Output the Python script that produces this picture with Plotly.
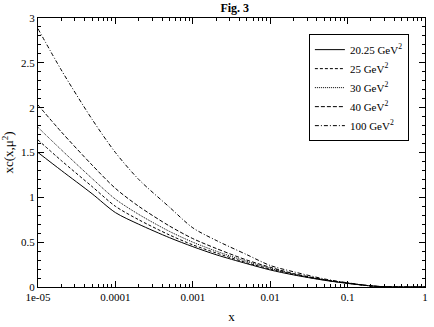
import numpy as np
import plotly.graph_objects as go

# x grid and curves (Fig. 3)
x = [1e-5, 2e-5, 5e-5, 1e-4, 2e-4, 5e-4, 1e-3, 2e-3, 5e-3, 1e-2, 2e-2, 5e-2, 0.1, 0.2, 0.3, 0.5, 1.0]

c_2025 = [1.50, 1.30, 1.04, 0.83, 0.70, 0.55, 0.45, 0.36, 0.26, 0.19, 0.135, 0.075, 0.040, 0.012, 0.003, 0.0, 0.0]
c_25 = [1.64, 1.41, 1.12, 0.90, 0.75, 0.58, 0.47, 0.38, 0.27, 0.20, 0.140, 0.078, 0.042, 0.012, 0.003, 0.0, 0.0]
c_30 = [1.78, 1.53, 1.21, 0.98, 0.81, 0.62, 0.50, 0.40, 0.285, 0.21, 0.145, 0.080, 0.043, 0.012, 0.003, 0.0, 0.0]
c_40 = [2.03, 1.73, 1.36, 1.10, 0.90, 0.68, 0.54, 0.43, 0.30, 0.22, 0.150, 0.082, 0.044, 0.012, 0.003, 0.0, 0.0]
c_100 = [2.88, 2.42, 1.87, 1.50, 1.20, 0.89, 0.66, 0.52, 0.36, 0.24, 0.170, 0.090, 0.047, 0.013, 0.003, 0.0, 0.0]

names = ["20.25 GeV<sup>2</sup>", "25 GeV<sup>2</sup>", "30 GeV<sup>2</sup>",
         "40 GeV<sup>2</sup>", "100 GeV<sup>2</sup>"]
dashes = ["solid", "3px,2px", "1px,1px", "4px,2px", "4px,2px,1px,2px"]

xtick_vals = [1e-5, 1e-4, 1e-3, 1e-2, 1e-1, 1]
xtick_text = ["1e-05", "0.0001", "0.001", "0.01", "0.1", "1"]
# minor ticks 2..9 in every decade
xminor = [m * 10.0 ** e for e in range(-5, 0) for m in range(2, 10)]

# x is plotted as log10(x) on a linear axis (ticks render reliably this way)
lx = np.log10(x)
lmaj = list(np.log10(xtick_vals))
lmin = list(np.log10(xminor))

fig = go.Figure()
for ys, nm, ds in zip([c_2025, c_25, c_30, c_40, c_100], names, dashes):
    fig.add_trace(go.Scatter(x=lx, y=ys, name=nm, mode="lines",
                             line=dict(color="black", width=1, dash=ds,
                                       shape="spline", smoothing=0.8)))

# empty trace on the overlay axis that carries the long (major) x ticks
fig.add_trace(go.Scatter(x=[-5, 0], y=[None, None], xaxis="x2", mode="lines",
                         showlegend=False, hoverinfo="skip"))

fig.update_layout(
    width=434, height=327,
    margin=dict(l=38, r=6, t=18, b=34),
    plot_bgcolor="white", paper_bgcolor="white",
    font=dict(family="Liberation Serif", size=11, color="black"),
    title=dict(text="<b>Fig. 3</b>", x=0.541, xanchor="center", y=0.99, yanchor="top",
               font=dict(size=12)),
    showlegend=True,
    legend=dict(x=0.70, y=0.94, xanchor="left", yanchor="top",
                bordercolor="black", borderwidth=1, bgcolor="white",
                font=dict(size=11), tracegroupgap=0, itemwidth=30),
    xaxis2=dict(range=[-5, 0], overlaying="x", anchor="y", side="bottom",
                showgrid=False, zeroline=False, showline=False, mirror="ticks",
                ticks="inside", ticklen=6, tickcolor="black",
                tickmode="array", tickvals=lmaj, showticklabels=False),
)

# main x axis: labelled majors plus short minor ticks
fig.layout.xaxis.update(
    range=[-5, 0], showgrid=False, zeroline=False,
    showline=True, linecolor="black", linewidth=1, mirror="ticks",
    ticks="inside", ticklen=3, tickcolor="black", tickmode="array",
    tickvals=lmaj + lmin, ticktext=xtick_text + [""] * len(lmin),
    title=dict(text="x", standoff=9),
)
fig.update_yaxes(
    range=[0, 3], showgrid=False, zeroline=False,
    showline=True, linecolor="black", linewidth=1, mirror="ticks",
    ticks="inside", ticklen=6, tickcolor="black",
    tickvals=[0, 0.5, 1, 1.5, 2, 2.5, 3], ticktext=["0", "0.5", "1", "1.5", "2", "2.5", "3"],
    minor=dict(ticks="inside", ticklen=3, tickcolor="black", dtick=0.1, showgrid=False),
    title=dict(text="xc(x,μ<sup>2</sup>)", standoff=6),
)

# the page has a default body margin; drop it so the figure sits at the corner
fig.write_html("out.html", config={"displayModeBar": False},
               post_script="document.body.style.margin='0';")
